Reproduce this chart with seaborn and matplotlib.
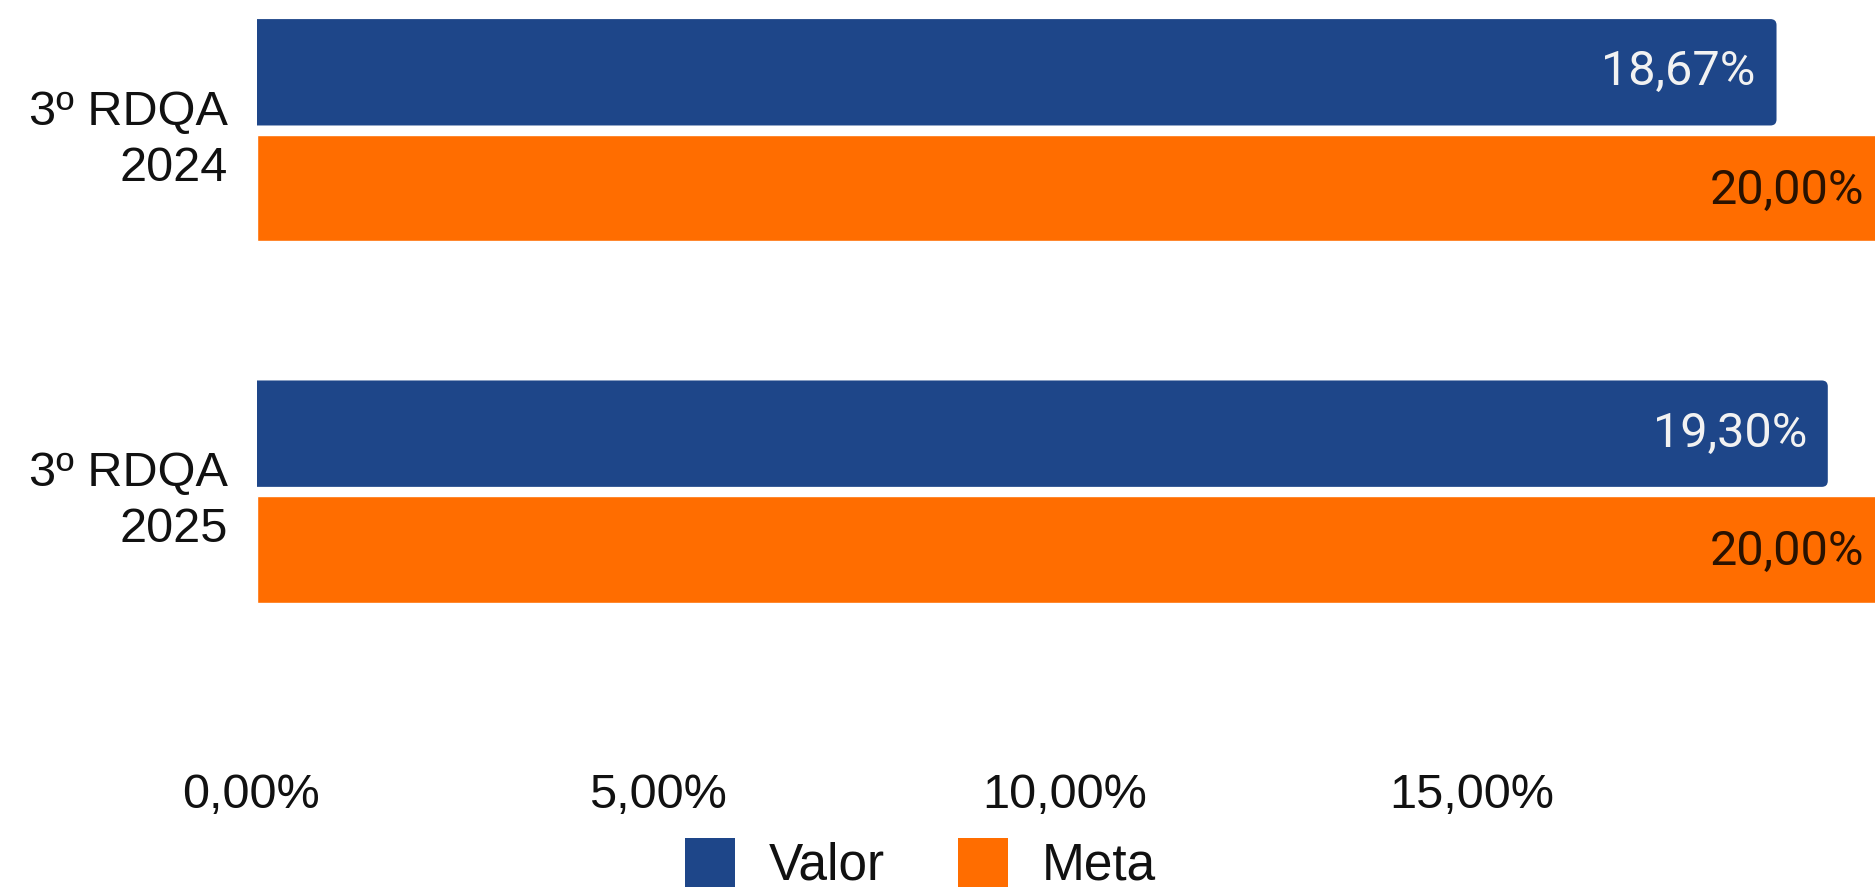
import seaborn as sns
import matplotlib.pyplot as plt
import pandas as pd
from matplotlib.patches import Patch, FancyBboxPatch
from matplotlib.ticker import FuncFormatter
from matplotlib.transforms import ScaledTranslation

categories = ["3º RDQA\n2024", "3º RDQA\n2025"]
valor = [18.67, 19.30]
meta = [20.00, 20.00]
series_names = ["Valor", "Meta"]
colors = ["#1E4689", "#FF6D00"]
label_colors = ["#F2F2F2", "#2A1200"]
x_ticks = [0, 5, 10, 15]


def pct(v, pos=None):
    return f"{v:.2f}%".replace(".", ",")


df = pd.DataFrame({
    "categoria": categories * 2,
    "valor": valor + meta,
    "serie": [series_names[0]] * len(categories) + [series_names[1]] * len(categories),
})

sns.set_theme(style="white")
plt.rcParams["font.family"] = ["Liberation Sans", "DejaVu Sans"]

fig = plt.figure(figsize=(18.75, 8.89), dpi=100)
ax = fig.add_axes([0.1371, 0.1451, 0.8629, 0.8549])

sns.barplot(
    data=df, y="categoria", x="valor", hue="serie", orient="h",
    palette=colors, width=0.64, gap=0.08, saturation=1,
    legend=False, ax=ax,
)

# rounded right end on the "Valor" bars (left corners get clipped at x=0)
r = 0.074
for p in ax.containers[0]:
    rb = FancyBboxPatch(
        (p.get_x() - r, p.get_y()), p.get_width() + r, p.get_height(),
        boxstyle=f"round,pad=0,rounding_size={r}", mutation_aspect=0.225,
        facecolor=p.get_facecolor(), edgecolor="none",
    )
    ax.add_patch(rb)
    p.set_visible(False)

offsets = [(-15, 0), (-15, -2)]
for container, lc, off in zip(ax.containers, label_colors, offsets):
    for p in container:
        ax.annotate(
            pct(p.get_width()),
            (p.get_width(), p.get_y() + p.get_height() / 2),
            xytext=off, textcoords="offset points",
            ha="right", va="center", fontsize=35,
            color=lc, family=["Roboto", "DejaVu Sans"],
            annotation_clip=False,
        )

ax.set_xlim(0, 19.88)
ax.set_ylim(1.743, -0.36)
ax.set_xticks(x_ticks)
ax.xaxis.set_major_formatter(FuncFormatter(pct))
ax.tick_params(axis="x", length=0, pad=9, labelsize=35, labelcolor="#111111")
ax.tick_params(axis="y", length=0, pad=21, labelsize=35, labelcolor="#111111")
for lbl in ax.get_yticklabels():
    lbl.set_horizontalalignment("right")
    lbl.set_multialignment("right")
    lbl.set_linespacing(1.3)
shift = ScaledTranslation(-0.06, 0, fig.dpi_scale_trans)
for lbl in ax.get_xticklabels():
    lbl.set_transform(lbl.get_transform() + shift)
ax.set_xlabel("")
ax.set_ylabel("")
sns.despine(ax=ax, left=True, bottom=True)

handles = [Patch(facecolor=c, edgecolor="none", label=n) for c, n in zip(colors, series_names)]
fig.legend(
    handles=handles, loc="center", bbox_to_anchor=(0.491, 0.028), ncol=2,
    frameon=False, fontsize=37, handlelength=0.97, handleheight=1.1,
    handletextpad=0.66, columnspacing=1.42, labelcolor="#111111",
)

fig.savefig("out.png", dpi=100, facecolor="white")
